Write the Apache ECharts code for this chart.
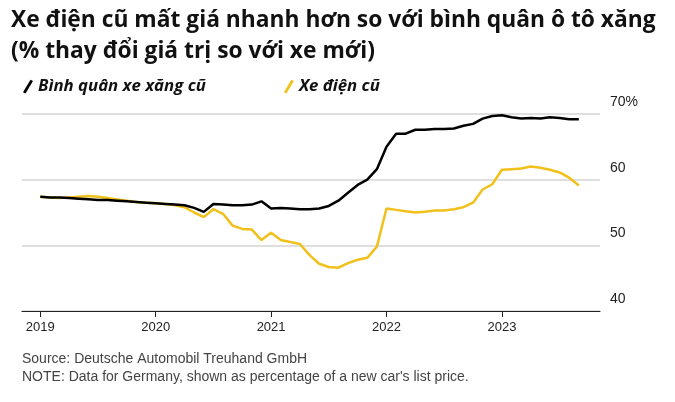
<!DOCTYPE html>
<html><head><meta charset="utf-8">
<script src="https://cdn.jsdelivr.net/npm/echarts@6/dist/echarts.min.js"></script>
<style>body{margin:0;background:#fff}#c{width:675px;height:402px}</style>
</head><body><div id="c"></div>
<script>
const years = ['2019','2020','2021','2022','2023'];
const yTicks = [40, 50, 60, 70];
const petrol = [57.4,57.3,57.3,57.2,57.1,57.0,56.9,56.9,56.8,56.7,56.6,56.5,
 56.4,56.3,56.2,56.1,55.7,55.1,56.3,56.2,56.1,56.1,56.2,56.7,
 55.6,55.7,55.6,55.5,55.5,55.6,56.0,56.8,58.0,59.2,60.0,61.6,
 65.0,67.0,67.0,67.6,67.6,67.7,67.7,67.8,68.2,68.5,69.3,69.7,
 69.8,69.5,69.3,69.4,69.3,69.5,69.4,69.2,69.2];
const ev = [57.4,57.3,57.2,57.3,57.4,57.5,57.4,57.2,57.0,56.8,56.6,56.5,
 56.4,56.3,56.1,55.8,55.0,54.3,55.5,54.8,53.0,52.5,52.4,50.8,
 51.9,50.8,50.5,50.2,48.5,47.2,46.7,46.6,47.3,47.8,48.1,49.8,
 55.6,55.4,55.2,55.0,55.1,55.3,55.3,55.5,55.8,56.5,58.5,59.3,
 61.5,61.6,61.7,62.0,61.8,61.5,61.1,60.3,59.1];
const months = petrol.map((_, i) => i); // month index from Jan 2019
const chart = echarts.init(document.getElementById('c'));
const slash = 'path://M0,10 L6,0 L8,1 L2,11 Z';
chart.setOption({
  animation:false,
  textStyle:{fontFamily:'Liberation Sans'},
  title:{text:'Xe điện cũ mất giá nhanh hơn so với bình quân ô tô xăng\n(% thay đổi giá trị so với xe mới)',
    left:6, top:0, textStyle:{fontFamily:'Open Sans', fontSize:22.8, fontWeight:'bold', color:'#111', lineHeight:31}},
  legend:{left:18, top:73, itemWidth:10, itemHeight:14, itemGap:78, selectedMode:false,
    textStyle:{fontFamily:'Open Sans', fontWeight:'bold', fontStyle:'italic', fontSize:16.8, color:'#111'},
    data:[{name:'Bình quân xe xăng cũ', icon:slash},{name:'Xe điện cũ', icon:slash}]},
  grid:{left:22, right:75, top:114, bottom:91},
  xAxis:{type:'value', min:-1.9, max:58.2,
    splitLine:{show:false},
    axisLine:{lineStyle:{color:'#222', width:1.2}},
    axisTick:{show:true, customValues:years.map((_, i)=>i*12), length:6, lineStyle:{color:'#222'}},
    axisLabel:{customValues:years.map((_, i)=>i*12), formatter:v=>years[Math.round(v/12)], color:'#222', fontSize:13, margin:10}},
  yAxis:{type:'value', position:'right', min:40, max:70, interval:10,
    axisLine:{show:false}, axisTick:{show:false},
    splitLine:{lineStyle:{color:'#d4d4d4', width:1.5}},
    axisLabel:{formatter:v=>v===70?'70%':String(v), verticalAlign:'bottom', margin:10, color:'#222', fontSize:14,
      align:'left', padding:[0,0,5,0]}},
  series:[
    {name:'Xe điện cũ', type:'line', showSymbol:false, data:months.map(i=>[i, ev[i]]),
      lineStyle:{color:'#f2c01a', width:2.5}, itemStyle:{color:'#f2c01a'}},
    {name:'Bình quân xe xăng cũ', type:'line', showSymbol:false, data:months.map(i=>[i, petrol[i]]),
      lineStyle:{color:'#000', width:2.5}, itemStyle:{color:'#000'}}
  ],
  graphic:[
    {type:'text', left:22, top:352, style:{text:'Source: Deutsche Automobil Treuhand GmbH', fill:'#444', fontSize:14, fontFamily:'Liberation Sans'}},
    {type:'text', left:22, top:370, style:{text:"NOTE: Data for Germany, shown as percentage of a new car's list price.", fill:'#444', fontSize:14, fontFamily:'Liberation Sans'}}
  ]
});
</script></body></html>
